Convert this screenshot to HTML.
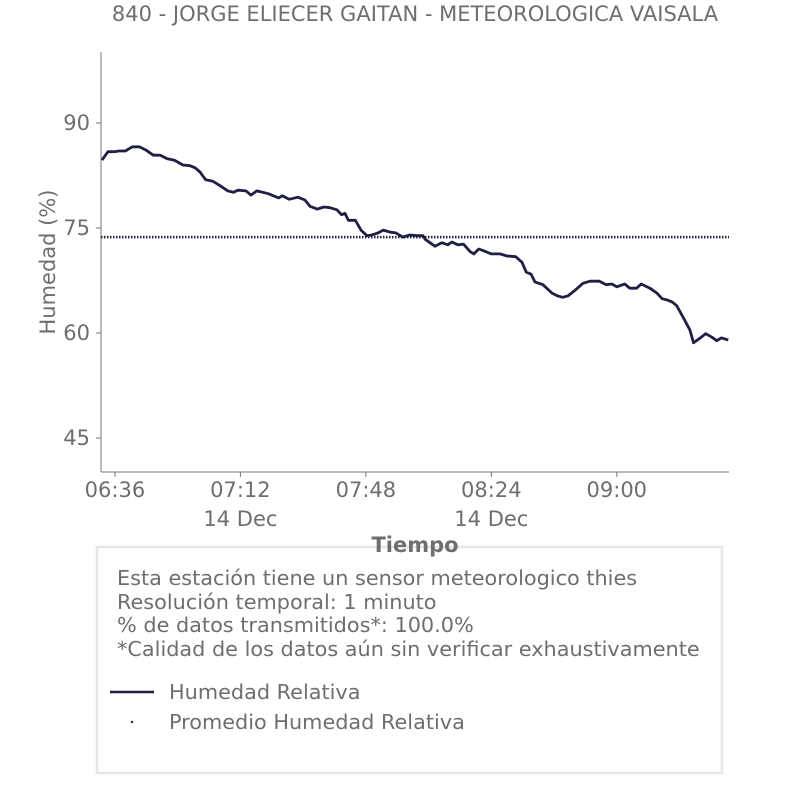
<!DOCTYPE html>
<html><head><meta charset="utf-8"><style>
body{margin:0;background:#fff;width:806px;height:806px;overflow:hidden;font-family:"DejaVu Sans","Liberation Sans",sans-serif;}
text{font-family:"DejaVu Sans","Liberation Sans",sans-serif;fill:#6e6e6e;}
</style></head><body>
<svg id="chart" width="806" height="806">
<text x="415" y="21" text-anchor="middle" font-size="21">840 - JORGE ELIECER GAITAN - METEOROLOGICA VAISALA</text>
<g id="axes"></g>
<g id="marks"></g>
<text transform="translate(55,262) rotate(-90)" text-anchor="middle" font-size="21">Humedad (%)</text>
<rect x="97" y="547" width="625" height="226" fill="#fff" stroke="#e6e6e6" stroke-width="2.5"/>
<text x="415" y="552" text-anchor="middle" font-size="21" font-weight="bold">Tiempo</text>
<g font-size="20.8">
<text x="117" y="585">Esta estación tiene un sensor meteorologico thies</text>
<text x="117" y="609">Resolución temporal: 1 minuto</text>
<text x="117" y="632">% de datos transmitidos*: 100.0%</text>
<text x="117" y="656">*Calidad de los datos aún sin verificar exhaustivamente</text>
</g>
<g>
<line x1="110" y1="692" x2="154" y2="692" stroke="#1f1f45" stroke-width="2.5"/>
<text x="169" y="699" font-size="20.8">Humedad Relativa</text></g>
<g>
<circle cx="132" cy="722" r="1.2" fill="#1f1f45"/>
<text x="169" y="729" font-size="20.8">Promedio Humedad Relativa</text></g>
</svg>
<script>
const minutes=[0.3,2,4,5,7,9,11,13,15,17,19,21,23.5,25.5,27,28.4,30,32,34,36.4,38,39.3,41.6,43,44.7,48,51,52,54,56.5,58.5,60,62,64,65.7,67.7,69,70,71,73,74.6,76.3,77.7,79.5,81,83,84.6,86.6,88.6,91,92.4,93,95.8,97.8,99.5,100.7,102.4,104,106,107,108.4,110,112,114.5,116.5,119,120.8,122,123.4,124.5,126.8,129.4,131,132.5,134,136,138.3,140.3,143,145,146.6,148,150.3,151.7,153.7,155,157.5,159.5,161,162.6,164,165.2,167.2,169,170,172,173.5,175.3,176.7,178,180];
const humidity=[84.7,85.9,85.9,86,86,86.6,86.6,86.1,85.4,85.4,84.9,84.7,84,83.9,83.6,83,81.9,81.7,81.1,80.3,80.1,80.4,80.3,79.7,80.3,79.9,79.3,79.6,79.1,79.4,79,78.1,77.7,78,77.9,77.6,76.9,77.1,76.1,76.1,74.7,73.9,74,74.3,74.7,74.4,74.3,73.7,74,73.9,73.9,73.4,72.4,72.9,72.6,73,72.6,72.7,71.6,71.3,72,71.7,71.3,71.3,71,70.9,70.1,68.7,68.4,67.3,66.9,65.7,65.3,65.1,65.3,66.1,67.1,67.4,67.4,66.9,67,66.6,67,66.4,66.4,67,66.4,65.7,64.9,64.7,64.4,63.9,62.1,60.4,58.6,59.3,59.9,59.4,58.9,59.3,59];
const averageHumidity=[73.7];
const yTicks=[45,60,75,90];
const xTickMinutes=[4,40,76,112,148];
const xTickLabels=["06:36","07:12","07:48","08:24","09:00"];
const dateLabels=["14 Dec","14 Dec"];
const dateTickIdx=[1,3];
const X0=101,X1=729,Y0=472,Y1=52,TMAX=180.2,VMIN=40.14,VMAX=100.14;
const sx=t=>X0+t*(X1-X0)/TMAX;
const sy=v=>Y0-(v-VMIN)*(Y0-Y1)/(VMAX-VMIN);
const NS="http://www.w3.org/2000/svg";
const axes=document.getElementById('axes'),marks=document.getElementById('marks');
function mk(tag,attrs,parent){const e=document.createElementNS(NS,tag);for(const k in attrs)e.setAttribute(k,attrs[k]);parent.appendChild(e);return e;}
let e=mk('line',{x1:X0,y1:Y1,x2:X0,y2:Y0,stroke:'#777','stroke-width':1},axes);


e=mk('line',{x1:X0,y1:Y0,x2:X1,y2:Y0,stroke:'#777','stroke-width':1},axes);


yTicks.forEach(v=>{
  const y=sy(v);
  mk('line',{x1:X0-5,y1:y,x2:X0,y2:y,stroke:'#777'},axes);
  const t=mk('text',{x:X0-11,y:y+7,'text-anchor':'end','font-size':21},axes);
  t.textContent=v;
  
  
});
xTickMinutes.forEach((m,i)=>{
  const x=sx(m);
  mk('line',{x1:x,y1:Y0,x2:x,y2:Y0+5,stroke:'#777'},axes);
  const t=mk('text',{x:x,y:Y0+25,'text-anchor':'middle','font-size':21},axes);
  t.textContent=xTickLabels[i];
  
  
});
dateTickIdx.forEach((ti,i)=>{
  const t=mk('text',{x:sx(xTickMinutes[ti]),y:Y0+54,'text-anchor':'middle','font-size':21},axes);
  t.textContent=dateLabels[i];
  
  
});
const ay=sy(averageHumidity[0]);
const avg=mk('line',{x1:X0,y1:ay,x2:X1,y2:ay,stroke:'#1f1f45','stroke-width':2.5,'stroke-dasharray':'1.5 1.5'},marks);


const d=minutes.map((m,i)=>(i?'L':'M')+sx(m).toFixed(1)+','+sy(humidity[i]).toFixed(1)).join(' ');
const p=mk('path',{d:d,fill:'none',stroke:'#1f1f45','stroke-width':2.8,'stroke-linejoin':'round'},marks);


</script>
</body></html>
